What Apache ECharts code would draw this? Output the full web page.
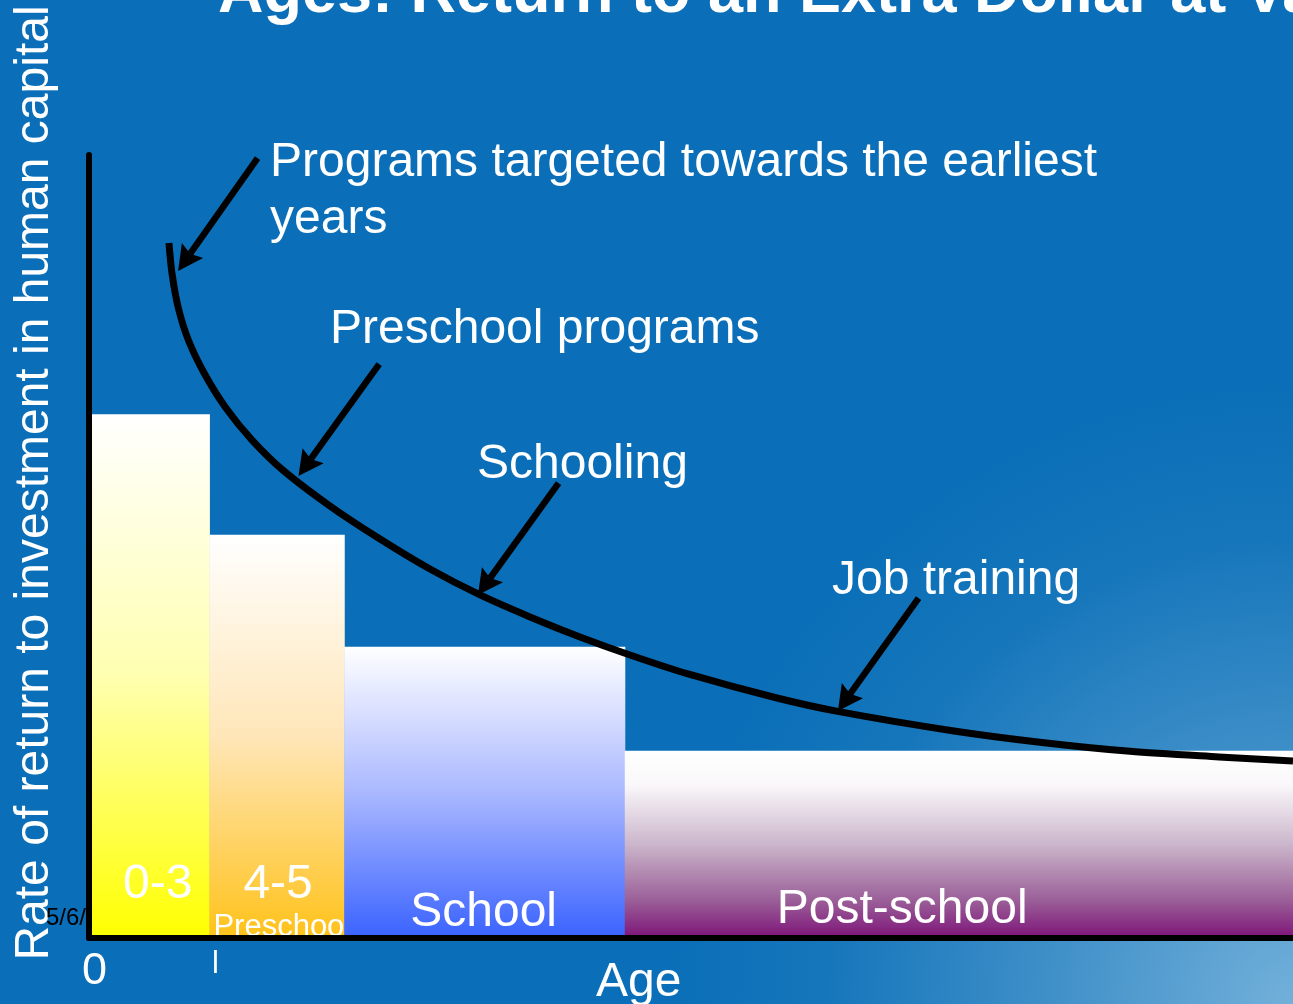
<!DOCTYPE html>
<html>
<head>
<meta charset="utf-8">
<script src="https://cdn.jsdelivr.net/npm/echarts@6/dist/echarts.min.js"></script>
<style>
html,body{margin:0;padding:0;background:#0a6fb8;overflow:hidden;}
#chart{width:1293px;height:1004px;}
</style>
</head>
<body>
<div id="chart"></div>
<script>
// ---------- data ----------
const barLabels = ['0-3', '4-5', 'School', 'Post-school'];
const barSubLabels = ['', 'Preschool', '', ''];
const barStart = [0, 10.0, 21.2, 44.5];
const barEnd = [10.0, 21.2, 44.5, 100];
const barValue = [66.9, 51.5, 37.2, 23.9];

const curveX = [6.64, 6.89, 7.40, 8.25, 9.56, 11.31, 13.54, 16.19, 20.02, 24.17, 28.32, 32.48, 36.63, 40.78, 44.93, 49.75, 57.14, 62.29, 71.84, 79.15, 86.46, 93.85, 100];
const curveY = [88.76, 84.93, 80.59, 76.37, 72.16, 67.82, 63.60, 59.64, 55.17, 50.96, 47.13, 43.81, 41.00, 38.44, 36.14, 33.72, 30.65, 28.91, 26.44, 24.97, 23.84, 23.12, 22.60];

const arrowLabels = ['Programs targeted towards the earliest\nyears', 'Preschool programs', 'Schooling', 'Job training'];
const arrowFromX = [14.0, 24.1, 39.0, 68.9];
const arrowFromY = [99.6, 73.3, 58.1, 43.4];
const arrowToX = [7.4, 17.4, 32.3, 62.2];
const arrowToY = [85.2, 59.0, 43.8, 29.0];

const yAxisTitle = 'Rate of return to investment in human capital';
const xAxisTitle = 'Age';
const xTickLabels = ['0', 'l'];
const slideTitle = 'Ages: Return to an Extra Dollar at Various Ages';
const footerDate = '5/6/';

// ---------- styles ----------
const FONT = '"Liberation Sans", Arial, Helvetica, sans-serif';
const barGradients = [
  [[0, '#ffffff'], [0.5, '#ffffb0'], [1, '#ffff00']],
  [[0, '#ffffff'], [0.5, '#ffe6b8'], [1, '#ffc21a']],
  [[0, '#ffffff'], [0.5, '#aab8ff'], [1, '#3a63ff']],
  [[0, '#ffffff'], [0.18, '#faf8fa'], [0.5, '#cbb6cb'], [0.8, '#9a5f98'], [1, '#7e1479']]
];
// label placement in pixels relative to bar left edge / axis baseline
const labelDx = [34, 34, 66, 152];
const labelDy = [-53, -53, -25, -28];
const subDx = [0, 4, 0, 0];
const subDy = [0, -11, 0, 0];

const chart = echarts.init(document.getElementById('chart'), null, {renderer: 'canvas'});

const barData = barStart.map((s, i) => [s, barEnd[i], barValue[i], i]);
const curveData = curveX.map((x, i) => [x, curveY[i]]);
const arrowData = arrowFromX.map((x, i) => [x, arrowFromY[i], arrowToX[i], arrowToY[i]]);

const annotPos = [[270, 162], [330, 330], [477, 465], [832, 581]];

const graphics = [
  {
    type: 'rect', z: -10, silent: true,
    shape: {x: 0, y: 0, width: 1293, height: 1004},
    style: {
      fill: new echarts.graphic.RadialGradient(1.0, 1.0, 0.62, [
        {offset: 0, color: '#72b0da'},
        {offset: 0.4, color: '#3e8fc8'},
        {offset: 0.75, color: '#1676bb'},
        {offset: 1, color: '#0a6fb8'}
      ])
    }
  },
  {
    type: 'text', x: 218, y: -5, z: 1,
    style: {text: slideTitle, fill: '#ffffff', fontSize: 63, fontWeight: 'bold', fontFamily: FONT, align: 'left', verticalAlign: 'middle'}
  },
  {
    type: 'text', x: 35, y: 483, rotation: Math.PI / 2, z: 1,
    style: {text: yAxisTitle, fill: '#ffffff', fontSize: 48, fontFamily: FONT, align: 'center', verticalAlign: 'middle'}
  },
  {
    type: 'text', x: 46, y: 918, z: 1,
    style: {text: footerDate, fill: '#000000', fontSize: 24, fontFamily: FONT, align: 'left', verticalAlign: 'middle'}
  },
  {
    type: 'text', x: 82, y: 972, z: 1,
    style: {text: xTickLabels[0], fill: '#ffffff', fontSize: 45, fontFamily: FONT, align: 'left', verticalAlign: 'middle'}
  },
  {
    type: 'text', x: 212, y: 964, z: 1,
    style: {text: xTickLabels[1], fill: '#ffffff', fontSize: 31, fontFamily: FONT, align: 'left', verticalAlign: 'middle'}
  },
  {
    type: 'text', x: 596, y: 983, z: 1,
    style: {text: xAxisTitle, fill: '#ffffff', fontSize: 48, fontFamily: FONT, align: 'left', verticalAlign: 'middle'}
  }
];
arrowLabels.forEach((t, i) => {
  const multi = t.indexOf('\n') >= 0;
  graphics.push({
    type: 'text', x: annotPos[i][0], y: multi ? annotPos[i][1] - 28 : annotPos[i][1], z: 1,
    style: {text: t, fill: '#ffffff', fontSize: 48, fontFamily: FONT, align: 'left', verticalAlign: multi ? 'top' : 'middle', lineHeight: 57}
  });
});

const option = {
  backgroundColor: '#0a6fb8',
  animation: false,
  grid: {left: 89, right: 0, top: 155, bottom: 66, containLabel: false},
  xAxis: {
    type: 'value', min: 0, max: 100, z: 10,
    axisLine: {show: true, onZero: false, lineStyle: {color: '#000', width: 6}},
    axisTick: {show: false}, axisLabel: {show: false}, splitLine: {show: false}
  },
  yAxis: {
    type: 'value', min: 0, max: 100, z: 10,
    axisLine: {show: true, onZero: false, lineStyle: {color: '#000', width: 6}},
    axisTick: {show: false}, axisLabel: {show: false}, splitLine: {show: false}
  },
  graphic: graphics,
  series: [
    {
      type: 'custom', name: 'bars', z: 2,
      encode: {x: [0, 1], y: 2},
      data: barData,
      renderItem: function (params, api) {
        const i = api.value(3);
        const p0 = api.coord([api.value(0), api.value(2)]);
        const p1 = api.coord([api.value(1), 0]);
        const children = [{
          type: 'rect', z2: i * 10,
          shape: {x: p0[0], y: p0[1], width: p1[0] - p0[0] + 0.5, height: p1[1] - p0[1]},
          style: {fill: new echarts.graphic.LinearGradient(0, 0, 0, 1,
            barGradients[i].map(s => ({offset: s[0], color: s[1]})))}
        }, {
          type: 'text', z2: i * 10 + 1,
          x: p0[0] + labelDx[i], y: p1[1] + labelDy[i],
          style: {text: barLabels[i], fill: '#ffffff', fontSize: 48, fontFamily: FONT, align: 'left', verticalAlign: 'middle'}
        }];
        if (barSubLabels[i]) {
          children.push({
            type: 'text', z2: i * 10 + 1,
            x: p0[0] + subDx[i], y: p1[1] + subDy[i],
            style: {text: barSubLabels[i], fill: '#ffffff', fontSize: 31, fontFamily: FONT, align: 'left', verticalAlign: 'middle'}
          });
        }
        return {type: 'group', children: children};
      }
    },
    {
      type: 'line', name: 'return', z: 5,
      data: curveData, smooth: 0.3, showSymbol: false, symbol: 'none',
      lineStyle: {color: '#000000', width: 7, cap: 'butt', join: 'round'},
      clip: false
    },
    {
      type: 'custom', name: 'arrows', z: 6,
      encode: {x: [0, 2], y: [1, 3]},
      data: arrowData,
      clip: false,
      renderItem: function (params, api) {
        const a = api.coord([api.value(0), api.value(1)]);
        const b = api.coord([api.value(2), api.value(3)]);
        const dx = b[0] - a[0], dy = b[1] - a[1];
        const len = Math.sqrt(dx * dx + dy * dy);
        const ux = dx / len, uy = dy / len;
        const nx = -uy, ny = ux;
        const L = 25, W = 13, notch = 4;
        const base = [b[0] - ux * L, b[1] - uy * L];
        const nb = [b[0] - ux * (L - notch), b[1] - uy * (L - notch)];
        return {
          type: 'group',
          children: [
            {type: 'line', shape: {x1: a[0], y1: a[1], x2: nb[0], y2: nb[1]}, style: {stroke: '#000', lineWidth: 6.5}},
            {type: 'polygon', shape: {points: [
              [b[0], b[1]],
              [base[0] + nx * W, base[1] + ny * W],
              nb,
              [base[0] - nx * W, base[1] - ny * W]
            ]}, style: {fill: '#000'}}
          ]
        };
      }
    }
  ]
};
chart.setOption(option);
</script>
</body>
</html>
